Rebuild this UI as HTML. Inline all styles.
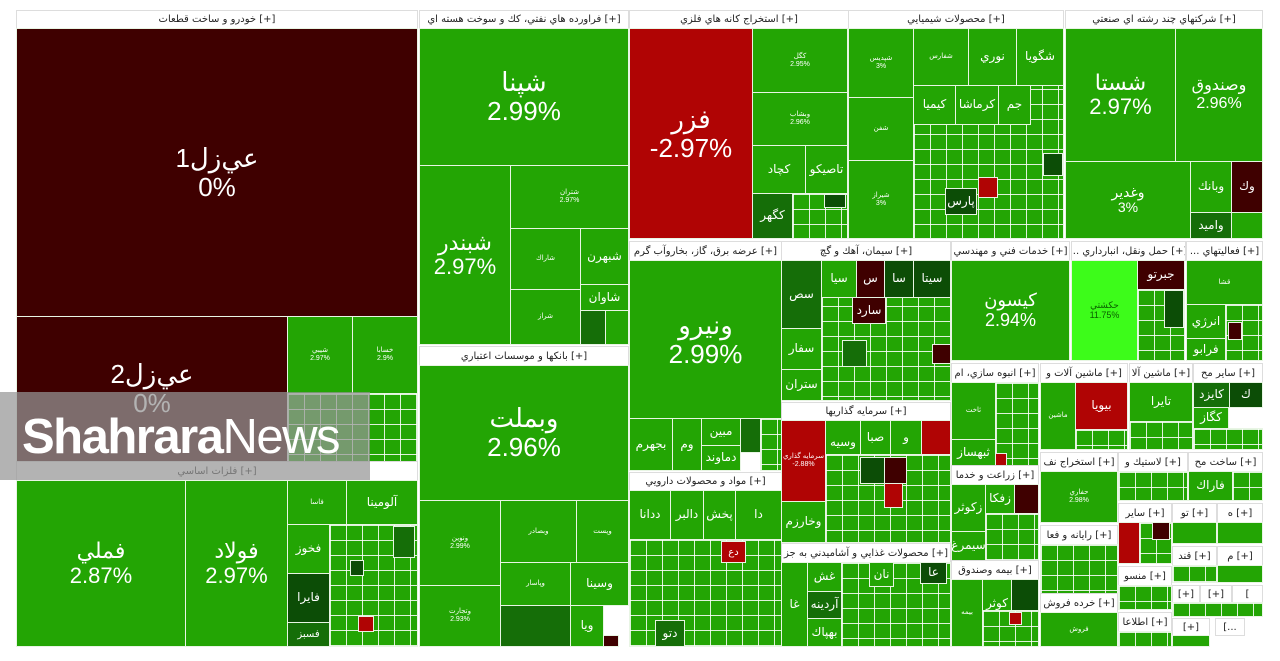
<!DOCTYPE html>
<html><head><meta charset="utf-8"><style>
body{margin:0;width:1280px;height:661px;background:#fff;position:relative;overflow:hidden;font-family:"Liberation Sans","DejaVu Sans",sans-serif}
.b{position:absolute;box-sizing:border-box;border:1px solid #e8f5e4;background:#23a504;color:#fff;display:flex;align-items:center;justify-content:center;text-align:center;overflow:hidden;line-height:1.1;font-size:12px;flex-direction:column}
.h{position:absolute;box-sizing:border-box;background:#fff;color:#222;font-size:10px;border:1px solid #ddd;display:flex;align-items:center;justify-content:center;white-space:nowrap;overflow:hidden;font-family:"DejaVu Sans",sans-serif}
.p{background-image:linear-gradient(90deg,rgba(255,255,255,.85) 1px,transparent 1px),linear-gradient(rgba(255,255,255,.85) 1px,transparent 1px);background-size:16px 15px}
.dr{background:#3f0000}.r{background:#b00404}.dg{background:#156e08}.vg{background:#0c4d06}.lg{background:#3dfc1a}
.L{font-size:22px}.X{font-size:26px}.s{font-size:7px}
</style></head><body>
<div class="h" style="left:16px;top:10px;width:402px;height:19px">خودرو و ساخت قطعات [+]</div>
<div class="b dr X" style="left:16px;top:28px;width:402px;height:289px">عي‌زل1<br>0%</div>
<div class="b dr X" style="left:16px;top:316px;width:272px;height:146px">عي‌زل2<br>0%</div>
<div class="b s" style="left:287px;top:316px;width:66px;height:78px">شيبي<br>2.97%</div>
<div class="b s" style="left:352px;top:316px;width:66px;height:78px">خسابا<br>2.9%</div>
<div class="b p" style="left:287px;top:393px;width:131px;height:69px"></div>
<div class="h" style="left:16px;top:461px;width:402px;height:20px">فلزات اساسي [+]</div>
<div class="b L" style="left:16px;top:480px;width:170px;height:167px">فملي<br>2.87%</div>
<div class="b L" style="left:185px;top:480px;width:103px;height:167px">فولاد<br>2.97%</div>
<div class="b s" style="left:287px;top:480px;width:60px;height:45px">فاسا</div>
<div class="b" style="left:346px;top:480px;width:72px;height:45px">آلومينا</div>
<div class="b" style="left:287px;top:524px;width:43px;height:50px">فخوز</div>
<div class="b vg" style="left:287px;top:573px;width:43px;height:50px">فايرا</div>
<div class="b dg" style="left:287px;top:622px;width:43px;height:25px;font-size:10px">فسبز</div>
<div class="b p" style="left:329px;top:524px;width:89px;height:123px"></div>
<div class="b dg" style="left:393px;top:526px;width:22px;height:32px"></div>
<div class="b vg" style="left:350px;top:560px;width:14px;height:16px"></div>
<div class="b r" style="left:358px;top:616px;width:16px;height:16px"></div>
<div class="h" style="left:419px;top:10px;width:210px;height:19px">فراورده هاي نفتي، كك و سوخت هسته اي [+]</div>
<div class="b X" style="left:419px;top:28px;width:210px;height:138px">شپنا<br>2.99%</div>
<div class="b L" style="left:419px;top:165px;width:92px;height:180px">شبندر<br>2.97%</div>
<div class="b s" style="left:510px;top:165px;width:119px;height:64px">شتران<br>2.97%</div>
<div class="b s" style="left:510px;top:228px;width:71px;height:62px">شاراك</div>
<div class="b" style="left:580px;top:228px;width:49px;height:57px">شبهرن</div>
<div class="b" style="left:580px;top:284px;width:49px;height:27px">شاوان</div>
<div class="b s" style="left:510px;top:289px;width:71px;height:56px">شراز</div>
<div class="b dg" style="left:580px;top:310px;width:26px;height:35px"></div>
<div class="b" style="left:605px;top:310px;width:24px;height:35px"></div>
<div class="h" style="left:419px;top:346px;width:210px;height:20px">بانكها و موسسات اعتباري [+]</div>
<div class="b X" style="left:419px;top:365px;width:210px;height:136px">وبملت<br>2.96%</div>
<div class="b s" style="left:419px;top:500px;width:82px;height:86px">ونوين<br>2.99%</div>
<div class="b s" style="left:419px;top:585px;width:82px;height:62px">وتجارت<br>2.93%</div>
<div class="b s" style="left:500px;top:500px;width:77px;height:63px">وبصادر</div>
<div class="b s" style="left:576px;top:500px;width:53px;height:63px">وپست</div>
<div class="b s" style="left:500px;top:562px;width:71px;height:44px">وپاسار</div>
<div class="b" style="left:570px;top:562px;width:59px;height:44px">وسينا</div>
<div class="b dg" style="left:500px;top:605px;width:71px;height:42px"></div>
<div class="b" style="left:570px;top:605px;width:34px;height:42px">ويا</div>
<div class="b dr" style="left:603px;top:635px;width:16px;height:12px"></div>
<div class="h" style="left:629px;top:10px;width:220px;height:19px">استخراج كانه هاي فلزي [+]</div>
<div class="b r X" style="left:629px;top:28px;width:124px;height:211px">فزر<br>-2.97%</div>
<div class="b s" style="left:752px;top:28px;width:96px;height:65px">كگل<br>2.95%</div>
<div class="b s" style="left:752px;top:92px;width:96px;height:54px">وبشاب<br>2.96%</div>
<div class="b" style="left:752px;top:145px;width:54px;height:49px">كچاد</div>
<div class="b" style="left:805px;top:145px;width:43px;height:49px">تاصيكو</div>
<div class="b dg" style="left:752px;top:193px;width:41px;height:46px">كگهر</div>
<div class="b p" style="left:792px;top:193px;width:56px;height:46px"></div>
<div class="b vg" style="left:824px;top:194px;width:22px;height:14px"></div>
<div class="h" style="left:848px;top:10px;width:216px;height:19px">محصولات شيميايي [+]</div>
<div class="b s" style="left:848px;top:28px;width:66px;height:70px">شپديس<br>3%</div>
<div class="b s" style="left:848px;top:97px;width:66px;height:64px">شفن</div>
<div class="b s" style="left:848px;top:160px;width:66px;height:79px">شيراز<br>3%</div>
<div class="b p" style="left:913px;top:28px;width:151px;height:211px"></div>
<div class="b s" style="left:913px;top:28px;width:56px;height:58px">شفارس</div>
<div class="b" style="left:968px;top:28px;width:49px;height:58px">نوري</div>
<div class="b" style="left:1016px;top:28px;width:48px;height:58px">شگويا</div>
<div class="b" style="left:913px;top:85px;width:43px;height:40px">كيميا</div>
<div class="b" style="left:955px;top:85px;width:44px;height:40px">كرماشا</div>
<div class="b" style="left:998px;top:85px;width:33px;height:40px">جم</div>
<div class="b r" style="left:978px;top:177px;width:20px;height:21px"></div>
<div class="b vg" style="left:945px;top:188px;width:32px;height:27px">پارس</div>
<div class="b vg" style="left:1043px;top:153px;width:20px;height:23px"></div>
<div class="h" style="left:1065px;top:10px;width:198px;height:19px">شركتهاي چند رشته اي صنعتي [+]</div>
<div class="b L" style="left:1065px;top:28px;width:111px;height:134px">شستا<br>2.97%</div>
<div class="b" style="left:1175px;top:28px;width:88px;height:134px;font-size:16px">وصندوق<br>2.96%</div>
<div class="b" style="left:1065px;top:161px;width:126px;height:78px;font-size:14px">وغدير<br>3%</div>
<div class="b" style="left:1190px;top:161px;width:42px;height:52px">وبانك</div>
<div class="b dr" style="left:1231px;top:161px;width:32px;height:52px">وك</div>
<div class="b dg" style="left:1190px;top:212px;width:42px;height:27px">واميد</div>
<div class="b" style="left:1231px;top:212px;width:32px;height:27px"></div>
<div class="h" style="left:629px;top:241px;width:153px;height:20px">عرضه برق، گاز، بخاروآب گرم [+]</div>
<div class="b X" style="left:629px;top:260px;width:153px;height:159px">ونيرو<br>2.99%</div>
<div class="b" style="left:629px;top:418px;width:44px;height:53px">بجهرم</div>
<div class="b" style="left:672px;top:418px;width:30px;height:53px">وم</div>
<div class="b" style="left:701px;top:418px;width:40px;height:28px">مبين</div>
<div class="b" style="left:701px;top:445px;width:40px;height:26px">دماوند</div>
<div class="b dg" style="left:740px;top:418px;width:21px;height:35px"></div>
<div class="b p" style="left:760px;top:418px;width:22px;height:53px"></div>
<div class="h" style="left:629px;top:472px;width:153px;height:19px">مواد و محصولات دارويي [+]</div>
<div class="b" style="left:629px;top:490px;width:42px;height:50px">ددانا</div>
<div class="b" style="left:670px;top:490px;width:34px;height:50px">دالبر</div>
<div class="b" style="left:703px;top:490px;width:33px;height:50px">پخش</div>
<div class="b" style="left:735px;top:490px;width:47px;height:50px">دا</div>
<div class="b p" style="left:629px;top:539px;width:153px;height:108px"></div>
<div class="b r" style="left:721px;top:541px;width:25px;height:22px;font-size:10px">دع</div>
<div class="b dg" style="left:655px;top:620px;width:30px;height:27px">دتو</div>
<div class="h" style="left:781px;top:241px;width:170px;height:20px">سيمان، آهك و گچ [+]</div>
<div class="b dg" style="left:781px;top:260px;width:41px;height:69px">سص</div>
<div class="b" style="left:781px;top:328px;width:41px;height:42px">سفار</div>
<div class="b" style="left:781px;top:369px;width:41px;height:32px">ستران</div>
<div class="b p" style="left:821px;top:260px;width:130px;height:141px"></div>
<div class="b" style="left:821px;top:260px;width:36px;height:38px">سيا</div>
<div class="b dr" style="left:856px;top:260px;width:29px;height:38px">س</div>
<div class="b vg" style="left:884px;top:260px;width:30px;height:38px">سا</div>
<div class="b vg" style="left:913px;top:260px;width:38px;height:38px">سيتا</div>
<div class="b dr" style="left:852px;top:297px;width:34px;height:27px">سارد</div>
<div class="b dg" style="left:842px;top:340px;width:25px;height:27px"></div>
<div class="b dr" style="left:932px;top:344px;width:19px;height:20px"></div>
<div class="h" style="left:781px;top:402px;width:170px;height:19px">سرمايه گذاريها [+]</div>
<div class="b r s" style="left:781px;top:420px;width:45px;height:82px">سرمايه گذاري<br>-2.88%</div>
<div class="b" style="left:781px;top:501px;width:45px;height:42px">وخارزم</div>
<div class="b" style="left:825px;top:420px;width:36px;height:45px">وسيه</div>
<div class="b" style="left:825px;top:464px;width:36px;height:48px">آريان</div>
<div class="b" style="left:860px;top:420px;width:31px;height:35px">صبا</div>
<div class="b" style="left:890px;top:420px;width:32px;height:35px">و</div>
<div class="b r" style="left:921px;top:420px;width:30px;height:35px"></div>
<div class="b p" style="left:825px;top:454px;width:126px;height:89px"></div>
<div class="b vg" style="left:860px;top:457px;width:25px;height:27px"></div>
<div class="b dr" style="left:884px;top:457px;width:23px;height:27px"></div>
<div class="b r" style="left:884px;top:483px;width:19px;height:25px"></div>
<div class="h" style="left:781px;top:543px;width:170px;height:20px">محصولات غذايي و آشاميدني به جز [+]</div>
<div class="b" style="left:781px;top:562px;width:27px;height:85px">غا</div>
<div class="b" style="left:807px;top:562px;width:35px;height:30px">غش</div>
<div class="b dg" style="left:807px;top:591px;width:35px;height:28px">آردينه</div>
<div class="b" style="left:807px;top:618px;width:35px;height:29px">بهپاك</div>
<div class="b p" style="left:841px;top:562px;width:110px;height:85px"></div>
<div class="b" style="left:869px;top:562px;width:25px;height:25px">نان</div>
<div class="b vg" style="left:920px;top:562px;width:27px;height:22px">عا</div>
<div class="h" style="left:951px;top:241px;width:119px;height:20px">خدمات فني و مهندسي [+]</div>
<div class="b" style="left:951px;top:260px;width:119px;height:101px;font-size:18px">كيسون<br>2.94%</div>
<div class="h" style="left:1071px;top:241px;width:115px;height:20px">... حمل ونقل، انبارداري [+]</div>
<div class="b lg s" style="left:1071px;top:260px;width:67px;height:101px;color:#0a5e00;font-size:9px">حكشتي<br>11.75%</div>
<div class="b dr" style="left:1137px;top:260px;width:48px;height:30px">جبرتو</div>
<div class="b p" style="left:1137px;top:289px;width:48px;height:72px"></div>
<div class="b vg" style="left:1164px;top:290px;width:20px;height:38px"></div>
<div class="h" style="left:1186px;top:241px;width:77px;height:20px">... فعاليتهاي [+]</div>
<div class="b s" style="left:1186px;top:260px;width:77px;height:45px">قشا</div>
<div class="b" style="left:1186px;top:304px;width:40px;height:35px">انرژي</div>
<div class="b" style="left:1186px;top:338px;width:40px;height:23px">فرابو</div>
<div class="b p" style="left:1225px;top:304px;width:38px;height:57px"></div>
<div class="b dr" style="left:1228px;top:322px;width:14px;height:18px"></div>
<div class="h" style="left:951px;top:363px;width:88px;height:20px">انبوه سازي، ام [+]</div>
<div class="b s" style="left:951px;top:382px;width:45px;height:58px">ثاخت</div>
<div class="b" style="left:951px;top:439px;width:45px;height:27px">ثبهساز</div>
<div class="b p" style="left:995px;top:382px;width:44px;height:84px"></div>
<div class="b r" style="left:995px;top:453px;width:12px;height:13px"></div>
<div class="h" style="left:951px;top:465px;width:88px;height:20px">زراعت و خدما [+]</div>
<div class="b" style="left:951px;top:484px;width:35px;height:48px">زكوثر</div>
<div class="b" style="left:985px;top:484px;width:30px;height:30px">زفكا</div>
<div class="b dr" style="left:1014px;top:484px;width:25px;height:30px"></div>
<div class="b" style="left:951px;top:531px;width:35px;height:30px">سيمرغ</div>
<div class="b p" style="left:985px;top:513px;width:54px;height:48px"></div>
<div class="h" style="left:951px;top:560px;width:88px;height:20px">بيمه وصندوق [+]</div>
<div class="b s" style="left:951px;top:579px;width:32px;height:68px">بيمه</div>
<div class="b" style="left:982px;top:579px;width:30px;height:50px">كوثر</div>
<div class="b vg" style="left:1011px;top:579px;width:28px;height:32px"></div>
<div class="b p" style="left:982px;top:610px;width:57px;height:37px"></div>
<div class="b r" style="left:1009px;top:612px;width:13px;height:13px"></div>
<div class="h" style="left:1040px;top:363px;width:88px;height:20px">ماشين آلات و [+]</div>
<div class="b s" style="left:1040px;top:382px;width:36px;height:68px">ماشين</div>
<div class="b r" style="left:1075px;top:382px;width:53px;height:48px">بيويا</div>
<div class="b p" style="left:1075px;top:429px;width:53px;height:21px"></div>
<div class="h" style="left:1129px;top:363px;width:64px;height:20px">ماشين آلا [+]</div>
<div class="b" style="left:1129px;top:382px;width:64px;height:40px">تايرا</div>
<div class="b p" style="left:1129px;top:421px;width:64px;height:29px"></div>
<div class="h" style="left:1193px;top:363px;width:70px;height:20px">ساير مح [+]</div>
<div class="b dg" style="left:1193px;top:382px;width:37px;height:26px">كايزد</div>
<div class="b vg" style="left:1229px;top:382px;width:34px;height:26px">ك</div>
<div class="b" style="left:1193px;top:407px;width:36px;height:22px">كگاز</div>
<div class="b p" style="left:1193px;top:428px;width:70px;height:22px"></div>
<div class="h" style="left:1040px;top:452px;width:78px;height:20px">استخراج نف [+]</div>
<div class="b s" style="left:1040px;top:471px;width:78px;height:52px">حفاري<br>2.98%</div>
<div class="h" style="left:1118px;top:452px;width:70px;height:20px">لاستيك و [+]</div>
<div class="b p" style="left:1118px;top:471px;width:70px;height:30px"></div>
<div class="h" style="left:1188px;top:452px;width:75px;height:20px">ساخت مح [+]</div>
<div class="b" style="left:1188px;top:471px;width:45px;height:30px">فاراك</div>
<div class="b p" style="left:1232px;top:471px;width:31px;height:30px"></div>
<div class="h" style="left:1040px;top:525px;width:78px;height:20px">رايانه و فعا [+]</div>
<div class="b p" style="left:1040px;top:544px;width:78px;height:50px"></div>
<div class="h" style="left:1040px;top:593px;width:78px;height:20px">خرده فروش [+]</div>
<div class="b s" style="left:1040px;top:612px;width:78px;height:35px">فروش</div>
<div class="h" style="left:1118px;top:503px;width:54px;height:20px">ساير [+]</div>
<div class="b r" style="left:1118px;top:522px;width:22px;height:42px"></div>
<div class="b p" style="left:1139px;top:522px;width:33px;height:42px"></div>
<div class="b dr" style="left:1152px;top:522px;width:18px;height:18px"></div>
<div class="h" style="left:1118px;top:566px;width:54px;height:20px">منسو [+]</div>
<div class="b p" style="left:1118px;top:585px;width:54px;height:25px"></div>
<div class="h" style="left:1118px;top:612px;width:54px;height:20px">اطلاعا [+]</div>
<div class="b p" style="left:1118px;top:631px;width:54px;height:16px"></div>
<div class="h" style="left:1172px;top:503px;width:45px;height:20px">تو [+]</div>
<div class="b" style="left:1172px;top:522px;width:45px;height:22px"></div>
<div class="h" style="left:1217px;top:503px;width:46px;height:20px">ه [+]</div>
<div class="b" style="left:1217px;top:522px;width:46px;height:22px"></div>
<div class="h" style="left:1172px;top:546px;width:45px;height:20px">قند [+]</div>
<div class="b p" style="left:1172px;top:565px;width:45px;height:18px"></div>
<div class="h" style="left:1217px;top:546px;width:46px;height:20px">م [+]</div>
<div class="b" style="left:1217px;top:565px;width:46px;height:18px"></div>
<div class="h" style="left:1172px;top:585px;width:28px;height:18px">[+]</div>
<div class="h" style="left:1200px;top:585px;width:32px;height:18px">[+]</div>
<div class="h" style="left:1232px;top:585px;width:31px;height:18px">[</div>
<div class="b p" style="left:1172px;top:602px;width:91px;height:15px"></div>
<div class="h" style="left:1172px;top:618px;width:38px;height:18px">[+]</div>
<div class="b" style="left:1172px;top:635px;width:38px;height:12px"></div>
<div class="h" style="left:1215px;top:618px;width:30px;height:18px">[...</div>
<div style="position:absolute;left:0;top:392px;width:370px;height:88px;background:rgba(150,150,150,.72)"></div>
<div style="position:absolute;left:22px;top:410px;font-size:49px;color:#fff;font-family:'Liberation Sans',sans-serif;letter-spacing:-1.5px;line-height:54px;white-space:nowrap"><b>Shahrara</b>News</div>
</body></html>
